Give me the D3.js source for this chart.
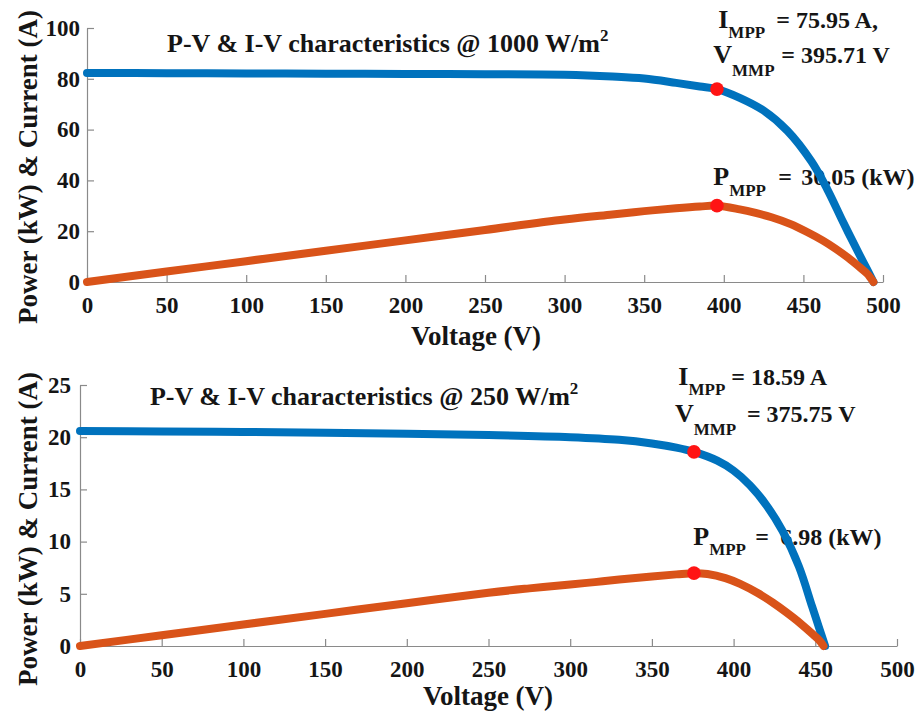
<!DOCTYPE html>
<html>
<head>
<meta charset="utf-8">
<script src="https://cdn.jsdelivr.net/npm/d3@7"></script>
<style>
  body { margin: 0; background: #fff; }
  svg { display: block; }
  svg text { font-family: 'Liberation Serif', 'Times New Roman', Tinos, 'DejaVu Serif', serif; font-weight: 700; }
</style>
</head>
<body>
<div id="chart"></div>
<script>
// ---- 1000 W/m2 ----
const v1000I = [0, 50, 100, 150, 200, 250, 300, 330, 350, 370, 385, 395.71, 410, 425, 440, 455, 465, 475, 485, 490, 494];
const i1000  = [82.3, 82.2, 82.1, 82.0, 81.9, 81.8, 81.6, 80.9, 80.1, 78.4, 77.0, 75.95, 72.5, 67.5, 59.5, 47.5, 36.5, 23.5, 11, 5, 0];
const v1000P = [0, 50, 100, 150, 200, 250, 300, 330, 350, 370, 385, 395.71, 410, 420, 430, 442, 452, 462, 470, 478, 485, 490, 494];
const p1000  = [0, 4.1, 8.2, 12.3, 16.4, 20.5, 24.6, 26.6, 27.9, 29.0, 29.7, 30.05, 28.6, 27.2, 25.5, 22.8, 19.8, 16.4, 13.2, 9.6, 6.0, 3.3, 0];
const mpp1000 = { v: 395.71, i: 75.95, p: 30.05 };

// ---- 250 W/m2 ----
const v250I = [0, 50, 100, 150, 200, 250, 300, 330, 350, 365, 375.75, 390, 400, 410, 420, 430, 440, 448, 452, 456];
const i250  = [20.6, 20.55, 20.5, 20.42, 20.33, 20.2, 20.0, 19.75, 19.4, 19.0, 18.59, 17.75, 16.8, 15.4, 13.5, 11.0, 7.6, 3.8, 1.9, 0];
const v250P = [0, 50, 100, 150, 200, 250, 275, 300, 315, 330, 350, 365, 375.75, 384, 395, 404, 415, 424, 432, 441, 449, 453, 455];
const p250  = [0, 1.03, 2.06, 3.08, 4.1, 5.1, 5.52, 5.9, 6.12, 6.36, 6.66, 6.86, 6.98, 6.9, 6.5, 5.95, 5.05, 4.15, 3.25, 2.15, 1.05, 0.45, 0];
const mpp250 = { v: 375.75, i: 18.59, p: 6.98 };

const voltageTicks = [0, 50, 100, 150, 200, 250, 300, 350, 400, 450, 500];
const yTicks1000 = [0, 20, 40, 60, 80, 100];
const yTicks250 = [0, 5, 10, 15, 20, 25];

const FONT = "'Liberation Serif', 'Times New Roman', Tinos, 'DejaVu Serif', serif";
const BLUE = '#0072BD', ORANGE = '#D95319', RED = '#ff1414', AXIS = '#8a8a8a', INK = '#151515';

const panels = [
  {
    box: { left: 87, right: 883, top: 28, bottom: 282 },
    yMax: 100, yTicks: yTicks1000, yPad: 7,
    vI: v1000I, cur: i1000, vP: v1000P, pow: p1000, mpp: mpp1000, irr: '1000',
    title: { v: 50.3, val: 90.7 },
    xTitle: { x: 476, y: 345 }, yTitle: { x: 37, y: 167 },
    notes: [
      { v: 396.5, val: 100, main: 'I', sub: 'MPP', subDy: 10, parts: [[58, `= ${mpp1000.i} A,`]] },
      { v: 393.4, val: 86.1, main: 'V', sub: 'MMP', subDy: 13, parts: [[68, `= ${mpp1000.v} V`]] },
      { v: 393.4, val: 38.2, main: 'P', sub: 'MPP', subDy: 11, parts: [[65, '='], [88, `${mpp1000.p.toFixed(2)} (kW)`]] }
    ]
  },
  {
    box: { left: 80, right: 897, top: 385, bottom: 646 },
    yMax: 25, yTicks: yTicks250, yPad: 9,
    vI: v250I, cur: i250, vP: v250P, pow: p250, mpp: mpp250, irr: '250',
    title: { v: 42.8, val: 23.1 },
    xTitle: { x: 488, y: 705 }, yTitle: { x: 37, y: 529 },
    notes: [
      { v: 366.2, val: 25, main: 'I', sub: 'MPP', subDy: 10, parts: [[53, `= ${mpp250.i} A`]] },
      { v: 364.1, val: 21.5, main: 'V', sub: 'MMP', subDy: 13, parts: [[72, `= ${mpp250.v} V`]] },
      { v: 375.3, val: 9.67, main: 'P', sub: 'MPP', subDy: 10, parts: [[62, '='], [87, `${mpp250.p} (kW)`]] }
    ]
  }
];

const svg = d3.select('#chart').append('svg')
  .attr('width', 919).attr('height', 714)
  .attr('viewBox', '0 0 919 714')
  .attr('font-family', FONT)
  .attr('font-weight', 'bold');

panels.forEach(drawPanel);

function drawPanel(p) {
  const x = d3.scaleLinear().domain([0, 500]).range([p.box.left, p.box.right]);
  const y = d3.scaleLinear().domain([0, p.yMax]).range([p.box.bottom, p.box.top]);
  const g = svg.append('g');

  const xAxisG = g.append('g')
    .attr('transform', `translate(0,${p.box.bottom})`)
    .call(d3.axisBottom(x).tickValues(voltageTicks).tickSizeInner(-7).tickSizeOuter(0).tickPadding(15));
  const yAxisG = g.append('g')
    .attr('transform', `translate(${p.box.left},0)`)
    .call(d3.axisLeft(y).tickValues(p.yTicks).tickSizeInner(-7).tickSizeOuter(0).tickPadding(p.yPad));

  [xAxisG, yAxisG].forEach(ax => {
    ax.attr('font-family', FONT).attr('font-size', 23);
    ax.selectAll('path, line').attr('stroke', AXIS).attr('stroke-width', 1.2);
    ax.selectAll('text').attr('fill', INK);
  });

  // axis titles
  g.append('text')
    .attr('x', p.xTitle.x).attr('y', p.xTitle.y)
    .attr('text-anchor', 'middle').attr('font-size', 27).attr('fill', INK)
    .text('Voltage (V)');
  g.append('text')
    .attr('transform', `translate(${p.yTitle.x},${p.yTitle.y}) rotate(-90)`)
    .attr('text-anchor', 'middle').attr('font-size', 27).attr('fill', INK)
    .text('Power (kW) & Current (A)');

  // panel title
  const title = g.append('text')
    .attr('x', x(p.title.v)).attr('y', y(p.title.val))
    .attr('font-size', 26).attr('fill', INK);
  title.append('tspan').text(`P-V & I-V characteristics @ ${p.irr} W/m`);
  title.append('tspan').attr('font-size', 17).attr('dy', -11).text('2');

  // MPP notes (drawn under the curves, as in the original)
  p.notes.forEach(n => {
    const px = x(n.v), py = y(n.val);
    const t = g.append('text').attr('x', px).attr('y', py).attr('fill', INK);
    t.append('tspan').attr('font-size', 26).text(n.main);
    t.append('tspan').attr('font-size', 17).attr('dy', n.subDy).text(n.sub);
    n.parts.forEach((part, k) => {
      t.append('tspan')
        .attr('font-size', 24)
        .attr('x', px + part[0])
        .attr('dy', k === 0 ? -n.subDy : 0)
        .text(part[1]);
    });
  });

  const line = d3.line().x(d => x(d[0])).y(d => y(d[1])).curve(d3.curveCatmullRom.alpha(0.5));

  g.append('path')
    .datum(d3.zip(p.vI, p.cur))
    .attr('d', line)
    .attr('fill', 'none').attr('stroke', BLUE).attr('stroke-width', 8)
    .attr('stroke-linecap', 'round').attr('stroke-linejoin', 'round');

  g.append('path')
    .datum(d3.zip(p.vP, p.pow))
    .attr('d', line)
    .attr('fill', 'none').attr('stroke', ORANGE).attr('stroke-width', 8)
    .attr('stroke-linecap', 'round').attr('stroke-linejoin', 'round');

  g.selectAll('.mpp')
    .data([p.mpp.i, p.mpp.p])
    .enter()
    .append('circle')
    .attr('class', 'mpp')
    .attr('cx', x(p.mpp.v))
    .attr('cy', d => y(d))
    .attr('r', 6.8)
    .attr('fill', RED);
}
</script>
</body>
</html>
